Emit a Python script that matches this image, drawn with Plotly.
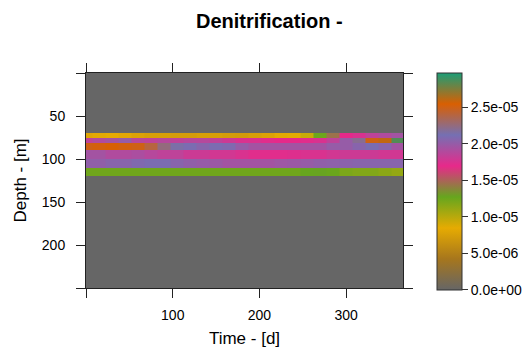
import plotly.graph_objects as go

# Time (days) of each model output column
times = [0, 15, 30, 45, 60, 75, 90, 105, 120, 135, 150, 165, 180,
         195, 210, 225, 240, 255, 270, 285, 300, 315, 330, 345, 360]

# Depth layer boundaries (m)
depth_edges = [0, 70, 75, 81, 90, 100, 110, 120, 250]

# Denitrification rate per layer
layer_0_70 = [0.0] * 25
layer_70_75 = [8.0e-6, 8.3e-6, 8.5e-6, 8.2e-6, 7.8e-6, 7.5e-6, 7.5e-6, 7.3e-6, 7.3e-6,
               7.5e-6, 7.5e-6, 7.3e-6, 7.2e-6, 7.5e-6, 7.8e-6, 8.3e-6, 8.6e-6, 9.5e-6,
               1.25e-5, 1.45e-5, 1.7e-5, 1.75e-5, 1.85e-5, 1.9e-5, 1.95e-5]
layer_75_81 = [1.85e-5, 1.9e-5, 1.95e-5, 2.0e-5, 1.88e-5, 1.85e-5, 1.88e-5, 1.85e-5, 1.88e-5,
               1.88e-5, 1.85e-5, 1.8e-5, 1.75e-5, 1.75e-5, 1.72e-5, 1.7e-5, 1.7e-5, 1.72e-5,
               1.75e-5, 1.85e-5, 2.0e-5, 2.2e-5, 2.5e-5, 2.6e-5, 2.85e-5]
layer_81_90 = [2.5e-5, 2.52e-5, 2.55e-5, 2.52e-5, 2.5e-5, 2.4e-5, 2.25e-5, 2.15e-5, 2.1e-5,
               2.05e-5, 2.1e-5, 2.08e-5, 2.0e-5, 1.95e-5, 1.95e-5, 1.95e-5, 1.95e-5, 1.95e-5,
               1.95e-5, 2.0e-5, 2.0e-5, 2.05e-5, 2.1e-5, 2.05e-5, 1.95e-5]
layer_90_100 = [1.95e-5, 1.95e-5, 1.9e-5, 1.9e-5, 1.92e-5, 1.88e-5, 1.85e-5, 1.85e-5, 1.8e-5,
                1.8e-5, 1.78e-5, 1.78e-5, 1.75e-5, 1.72e-5, 1.72e-5, 1.72e-5, 1.73e-5, 1.75e-5,
                1.75e-5, 1.78e-5, 1.8e-5, 1.8e-5, 1.8e-5, 1.78e-5, 1.78e-5]
layer_100_110 = [2.02e-5, 2.02e-5, 2.05e-5, 2.05e-5, 2.08e-5, 2.1e-5, 2.1e-5, 2.05e-5, 2.02e-5,
                 2.0e-5, 1.98e-5, 1.95e-5, 1.95e-5, 1.95e-5, 1.95e-5, 1.97e-5, 1.98e-5, 2.0e-5,
                 2.02e-5, 2.03e-5, 2.04e-5, 2.05e-5, 2.05e-5, 2.05e-5, 2.05e-5]
layer_110_120 = [1.24e-5, 1.24e-5, 1.24e-5, 1.24e-5, 1.24e-5, 1.24e-5, 1.24e-5, 1.24e-5, 1.24e-5,
                 1.24e-5, 1.24e-5, 1.24e-5, 1.24e-5, 1.24e-5, 1.24e-5, 1.24e-5, 1.24e-5, 1.27e-5,
                 1.28e-5, 1.26e-5, 1.2e-5, 1.18e-5, 1.18e-5, 1.15e-5, 1.12e-5]
layer_120_250 = [0.0] * 25

z_max = 2.97e-5
cbar_ticks = [0, 5e-6, 1e-5, 1.5e-5, 2e-5, 2.5e-5]
cbar_labels = ["0.0e+00", "5.0e-06", "1.0e-05", "1.5e-05", "2.0e-05", "2.5e-05"]

x_ticks = [0, 100, 200, 300]
x_labels = ["", "100", "200", "300"]
y_ticks = [0, 50, 100, 150, 200, 250]
y_labels = ["", "50", "100", "150", "200", ""]

palette = ["#666666", "#A6761D", "#E6AB02", "#66A61E",
           "#E7298A", "#7570B3", "#D95F02", "#1B9E77"]
colorscale = [[i / (len(palette) - 1), c] for i, c in enumerate(palette)]

z = [layer_0_70, layer_70_75, layer_75_81, layer_81_90,
     layer_90_100, layer_100_110, layer_110_120, layer_120_250]

font = "Liberation Sans, Arial, Helvetica, sans-serif"

fig = go.Figure(go.Heatmap(
    x=times, y=depth_edges, z=z,
    zmin=0, zmax=z_max, colorscale=colorscale,
    colorbar=dict(
        x=(437 - 86) / 317, xanchor="left", xpad=0,
        y=(288 - 181.4) / 215, yanchor="middle", ypad=0,
        lenmode="pixels", len=217, thickness=25,
        outlinewidth=1, outlinecolor="#333333",
        tickvals=cbar_ticks, ticktext=cbar_labels,
        ticks="outside", ticklen=6, tickcolor="#333333",
        tickfont=dict(family=font, size=14, color="black"),
    ),
))

axis_common = dict(
    showline=True, linecolor="#222222", linewidth=1, mirror="ticks",
    ticks="outside", ticklen=9, tickcolor="#222222", tickwidth=1,
    showgrid=False, zeroline=False,
    tickfont=dict(family=font, size=14, color="black"),
)

fig.update_layout(
    width=528, height=351,
    margin=dict(l=86, r=125, t=73, b=63, autoexpand=False),
    paper_bgcolor="white", plot_bgcolor="#666666",
    title=dict(text="<b>Denitrification -</b>", x=0.51, xref="container",
               xanchor="center", y=1 - 21 / 351, yanchor="middle",
               font=dict(family=font, size=20, color="black")),
    xaxis=dict(range=[0, 365.5], tickvals=x_ticks, ticktext=x_labels,
               ticklabelstandoff=5,
               title=dict(text="Time - [d]", standoff=10,
                          font=dict(family=font, size=17, color="black")),
               **axis_common),
    yaxis=dict(range=[250, 0], tickvals=y_ticks, ticktext=y_labels,
               ticklabelstandoff=8,
               title=dict(text="Depth - [m]", standoff=10,
                          font=dict(family=font, size=17, color="black")),
               **axis_common),
)

fig.write_html("out.html")
